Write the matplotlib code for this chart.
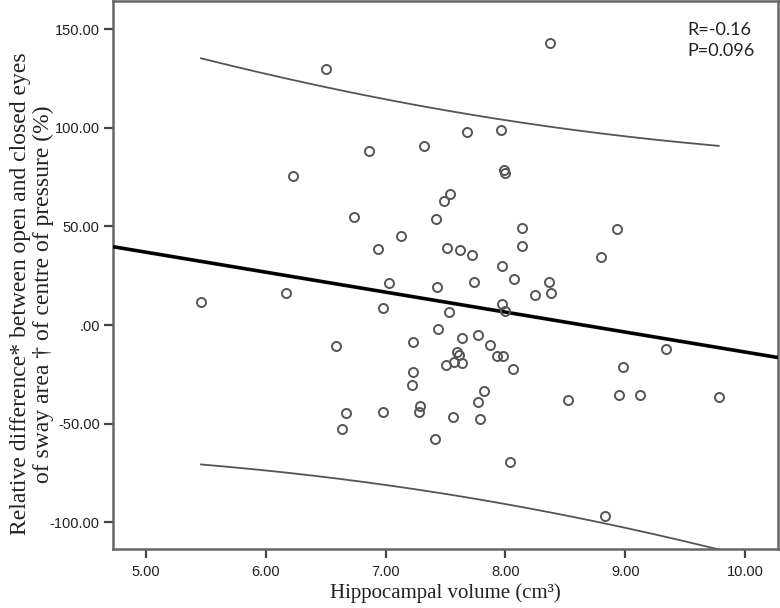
import numpy as np
import matplotlib
matplotlib.use("Agg")
import matplotlib.pyplot as plt
from matplotlib.ticker import FuncFormatter

volume = [5.46, 6.17, 6.23, 6.50, 6.59, 6.67, 6.64, 6.74, 6.86, 6.94,
          6.98, 6.98, 7.03, 7.13, 7.22, 7.23, 7.23, 7.29, 7.28, 7.32,
          7.41, 7.42, 7.43, 7.44, 7.49, 7.50, 7.51, 7.53, 7.54, 7.56,
          7.57, 7.60, 7.61, 7.62, 7.64, 7.64, 7.68, 7.72, 7.74, 7.77,
          7.77, 7.79, 7.82, 7.87, 7.93, 7.96, 7.97, 7.97, 7.98, 7.99,
          8.00, 8.00, 8.04, 8.06, 8.07, 8.14, 8.14, 8.25, 8.36, 8.37,
          8.38, 8.52, 8.80, 8.83, 8.93, 8.95, 8.98, 9.12, 9.34, 9.78]
rel_diff = [11.5, 16.1, 75.3, 129.8, -10.5, -44.6, -52.9, 54.9, 88.0, 38.6,
            8.5, -44.3, 21.2, 45.3, -30.6, -8.5, -24.0, -40.9, -44.1, 90.7,
            -57.8, 53.7, 19.1, -1.8, 62.8, -20.3, 39.2, 6.5, 66.4, -46.6,
            -18.6, -13.8, -15.0, 37.9, -6.5, -19.0, 97.6, 35.7, 22.0, -5.2,
            -39.2, -47.8, -33.5, -10.2, -15.9, 98.9, 30.0, 10.7, -15.9, 78.7,
            77.0, 7.0, -69.2, -22.4, 23.5, 49.2, 40.2, 15.3, 21.7, 143.1,
            16.3, -37.9, 34.5, -96.8, 48.7, -35.5, -21.3, -35.7, -12.2, -36.4]

x_ticks = [5, 6, 7, 8, 9, 10]
y_ticks = [-100, -50, 0, 50, 100, 150]
stats_text = "R=-0.16\nP=0.096"

x = np.array(volume)
y = np.array(rel_diff)

fig = plt.figure(figsize=(7.8, 6.08), dpi=100)
ax = fig.add_axes([113/780, 1-549/608, 665/780, 548/608])

# regression fit and 95% individual prediction interval
b, a = np.polyfit(x, y, 1)
n = len(x)
resid = y - (a + b*x)
s = np.sqrt(np.sum(resid**2)/(n-2))
sxx = np.sum((x - x.mean())**2)
t = 1.995
xl = np.array([4.725, 10.275])
ax.plot(xl, a + b*xl, color='black', lw=2.6, zorder=3, solid_capstyle='butt')
xs = np.linspace(x.min(), x.max(), 200)
half = t*s*np.sqrt(1 + 1/n + (xs - x.mean())**2/sxx)
ax.plot(xs, a + b*xs + half, color='#555555', lw=1.3, zorder=2)
ax.plot(xs, a + b*xs - half, color='#555555', lw=1.3, zorder=2)

ax.plot(x, y, linestyle='none', marker='o', markersize=6.5, markerfacecolor='none',
        markeredgecolor='#555555', markeredgewidth=1.4, zorder=4)

ax.set_xlim(4.725, 10.275)
ax.set_ylim(-113.5, 164.2)
ax.set_xticks(x_ticks)
ax.set_yticks(y_ticks)

def fmt(v, pos):
    s_ = f"{v:.2f}"
    if s_ in ("0.00", "-0.00"):
        return ".00"
    return s_
ax.xaxis.set_major_formatter(FuncFormatter(fmt))
ax.yaxis.set_major_formatter(FuncFormatter(fmt))

for sp in ax.spines.values():
    sp.set_color('#666666')
    sp.set_linewidth(1.8)
ax.tick_params(axis='both', direction='out', length=6.5, width=1.6, color='#444444',
               labelsize=10.5, labelcolor='#222222', pad=3)
ax.tick_params(axis='x', pad=5)
for lab in ax.get_xticklabels() + ax.get_yticklabels():
    lab.set_family('Liberation Sans')

ax.set_xlabel("Hippocampal volume (cm³)", family='Liberation Serif', fontsize=15,
              color='#222222')
ax.xaxis.set_label_coords(0.5, -0.062)
ax.set_ylabel("Relative difference* between open and closed eyes\nof sway area † of centre of pressure (%)",
              family='Liberation Serif', fontsize=17, color='#222222',
              linespacing=1.12)
ax.yaxis.set_label_coords(-(113 - 54) / 665, 0.465)

ax.text(0.863, 0.962, stats_text, transform=ax.transAxes, ha='left', va='top',
        family='Lato', fontsize=13, color='#222222', linespacing=1.4)

fig.savefig("out.png", dpi=100, facecolor='white')
